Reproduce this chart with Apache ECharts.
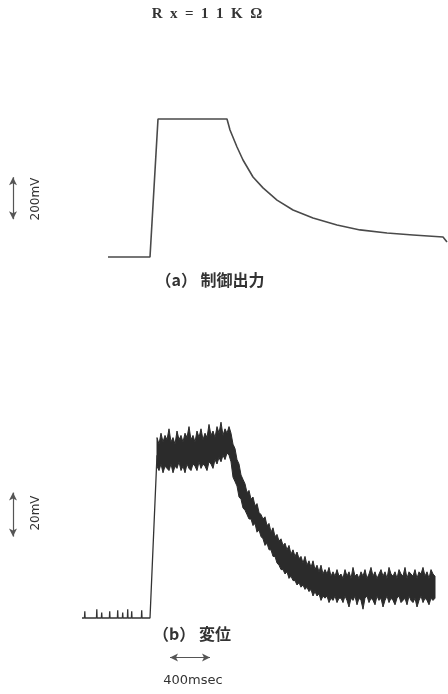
<!DOCTYPE html>
<html>
<head>
<meta charset="utf-8">
<script src="https://cdn.jsdelivr.net/npm/echarts@6/dist/echarts.min.js"></script>
<style>
  html, body { margin: 0; padding: 0; background: #ffffff; }
  #chart { width: 448px; height: 694px; }
</style>
</head>
<body>
<div id="chart"></div>
<script>
// (a) control output, time in ms (0 = start of step), value in mV
const outTime  = [-400, 20, 100, 790, 820, 890, 950, 1050, 1150, 1290, 1450, 1650, 1890, 2120, 2390, 2650, 2950, 2990];
const outValue = [0, 0, 657, 657, 605, 524, 462, 381, 329, 271, 224, 186, 152, 129, 114, 105, 95, 71];

// (b) displacement: quiet baseline before the step (mV) and the rising edge
const baseTime  = [-660, -635, -632, -629, -515, -512, -509, -466, -463, -460, -386, -383, -380, -306, -303, -300,
                   -256, -253, -250, -206, -203, -200, -166, -163, -160, -66, -63, -60, 20, 90];
const baseValue = [0, 0, 3, 0, 0, 4, 0, 0, 2.5, 0, 0, 3, 0, 0, 3.5, 0,
                   0, 2.5, 0, 0, 4, 0, 0, 3, 0, 0, 3.5, 0, 0, 74];

// (b) noisy displacement band: sample times (ms) with upper and lower envelope (mV)
const bandTime = [
  90, 110, 130, 150, 170, 190, 210, 230, 250, 270, 290, 310, 330, 350, 370, 390, 410, 430, 450, 470,
  490, 510, 530, 550, 570, 590, 610, 630, 650, 670, 690, 710, 730, 750, 770, 790, 810,
  830, 850, 870, 890, 910, 930, 950, 970, 990, 1010, 1030, 1050, 1070, 1090, 1110, 1130, 1150, 1170, 1190, 1210,
  1230, 1250, 1270, 1290, 1310, 1330, 1350, 1370, 1390, 1410, 1430, 1450, 1470, 1490, 1510, 1530, 1550, 1570, 1590, 1610,
  1630, 1650, 1670, 1690, 1710, 1730, 1750, 1770, 1790, 1810, 1830, 1850, 1870, 1890, 1910,
  1930, 1950, 1970, 1990, 2010, 2030, 2050, 2070, 2090, 2110, 2130, 2150, 2170, 2190, 2210, 2230, 2250, 2270, 2290, 2310,
  2330, 2350, 2370, 2390, 2410, 2430, 2450, 2470, 2490, 2510, 2530, 2550, 2570, 2590, 2610, 2630, 2650, 2670, 2690, 2710,
  2730, 2750, 2770, 2790, 2810, 2830, 2850, 2870
];
const bandHigh = [
  82, 79, 84, 80, 83, 81, 86, 80, 82, 79, 85, 81, 83, 80, 84, 82, 87, 81, 83, 80,
  85, 82, 86, 81, 84, 82, 88, 83, 85, 82, 87, 84, 89, 83, 86, 84, 87,
  84, 79, 77, 72, 70, 65, 63, 61, 57, 58, 54, 55, 51, 52, 48, 47, 45, 46, 42, 43,
  39, 41, 37, 38, 35, 36, 33, 34, 31, 33, 29, 31, 28, 30, 27, 28, 25, 28, 24, 26,
  23, 26, 22, 24, 21, 24, 20, 22, 20, 23, 19, 21, 19, 22, 19,
  20, 18, 22, 19, 21, 18, 23, 19, 20, 18, 21, 19, 22, 18, 20, 23, 19, 21, 18, 20,
  22, 19, 21, 18, 23, 20, 19, 21, 18, 22, 20, 19, 23, 18, 21, 20, 19, 22, 18, 21,
  20, 23, 19, 21, 18, 22, 20, 19
];
const bandLow = [
  69, 67, 70, 66, 69, 68, 67, 70, 66, 69, 68, 71, 67, 69, 66, 70, 68, 67, 70, 69,
  67, 71, 68, 70, 69, 67, 71, 70, 68, 72, 70, 73, 71, 74, 72, 75, 74,
  71, 64, 62, 60, 55, 54, 50, 49, 47, 45, 45, 42, 43, 39, 40, 37, 36, 33, 34, 31,
  31, 28, 28, 25, 24, 22, 22, 20, 21, 18, 19, 17, 17, 15, 16, 14, 15, 13, 14, 12,
  13, 10, 12, 10, 11, 8, 10, 9, 10, 7, 9, 8, 10, 7, 9,
  9, 7, 10, 8, 5, 9, 8, 10, 6, 9, 8, 4, 9, 10, 7, 9, 8, 6, 10, 8,
  9, 5, 8, 10, 7, 9, 8, 6, 9, 10, 7, 8, 9, 6, 10, 8, 7, 9, 5, 8,
  10, 7, 9, 8, 6, 9, 8, 9
];

// scale bars
const voltBarA = [180, 380];   // 200 mV
const voltBarB = [37, 57];     // 20 mV
const timeBar  = [220, 620];   // 400 ms
const timeBarLevel = -18;
const barTime = -1350;

const zip = (xs, ys) => xs.map((x, i) => [x, ys[i]]);

const ink = '#333333';
const cjk = '"Noto Sans CJK JP", "Noto Sans", sans-serif';
const mono = '"DejaVu Sans", sans-serif';

const chart = echarts.init(document.getElementById('chart'), null, { renderer: 'canvas' });

chart.setOption({
  backgroundColor: '#ffffff',
  animation: false,
  grid: [
    { left: 8, width: 440, top: 99.5, height: 178.5 },
    { left: 8, width: 440, top: 420, height: 253 }
  ],
  xAxis: [
    { gridIndex: 0, type: 'value', min: -1400, max: 3000, show: false },
    { gridIndex: 1, type: 'value', min: -1400, max: 3000, show: false }
  ],
  yAxis: [
    { gridIndex: 0, type: 'value', min: -100, max: 750, show: false },
    { gridIndex: 1, type: 'value', min: -25, max: 90, show: false }
  ],
  series: [
    {
      name: '制御出力',
      type: 'line',
      xAxisIndex: 0, yAxisIndex: 0,
      data: zip(outTime, outValue),
      showSymbol: false,
      lineStyle: { color: '#4a4a4a', width: 1.6 },
      markLine: {
        silent: true,
        symbol: ['arrow', 'arrow'],
        symbolSize: [6, 8],
        label: { show: false },
        lineStyle: { color: '#555', width: 1.2, type: 'solid' },
        data: [[{ coord: [barTime, voltBarA[0]] }, { coord: [barTime, voltBarA[1]] }]]
      }
    },
    {
      name: '変位基線',
      type: 'line',
      xAxisIndex: 1, yAxisIndex: 1,
      data: zip(baseTime, baseValue),
      showSymbol: false,
      lineStyle: { color: '#333', width: 1.3 },
      markLine: {
        silent: true,
        symbol: ['arrow', 'arrow'],
        symbolSize: [6, 8],
        label: { show: false },
        lineStyle: { color: '#555', width: 1.2, type: 'solid' },
        data: [
          [{ coord: [barTime, voltBarB[0]] }, { coord: [barTime, voltBarB[1]] }],
          [{ coord: [timeBar[0], timeBarLevel] }, { coord: [timeBar[1], timeBarLevel] }]
        ]
      }
    },
    {
      // noise band drawn as one polygon between the upper and lower envelopes
      name: '変位',
      type: 'custom',
      xAxisIndex: 1, yAxisIndex: 1,
      data: bandTime.map((t, i) => [t, bandHigh[i], bandLow[i]]),
      encode: { x: 0, y: [1, 2] },
      renderItem: function (params, api) {
        if (params.dataIndex !== 0) return null;
        const pts = [];
        for (let i = 0; i < bandTime.length; i++) pts.push(api.coord([bandTime[i], bandHigh[i]]));
        for (let i = bandTime.length - 1; i >= 0; i--) pts.push(api.coord([bandTime[i], bandLow[i]]));
        return {
          type: 'polygon',
          shape: { points: pts },
          style: { fill: '#2b2b2b', stroke: '#2b2b2b', lineWidth: 1 }
        };
      }
    }
  ],
  graphic: [
    { type: 'text', x: 207, y: 14,
      style: { text: 'R  x  =  1  1  K  Ω', font: 'bold 15px "Liberation Serif", "DejaVu Serif", serif',
               fill: ink, align: 'center', verticalAlign: 'middle' } },
    { type: 'text', x: 36, y: 199, rotation: Math.PI / 2,
      style: { text: '200mV', font: '12px ' + mono,
               fill: ink, align: 'center', verticalAlign: 'middle' } },
    { type: 'text', x: 210, y: 280,
      style: { text: '（a） 制御出力', font: 'bold 16px ' + cjk,
               fill: ink, align: 'center', verticalAlign: 'middle' } },
    { type: 'text', x: 36, y: 513, rotation: Math.PI / 2,
      style: { text: '20mV', font: '12px ' + mono,
               fill: ink, align: 'center', verticalAlign: 'middle' } },
    { type: 'text', x: 192, y: 634,
      style: { text: '（b） 変位', font: 'bold 16px ' + cjk,
               fill: ink, align: 'center', verticalAlign: 'middle' } },
    { type: 'text', x: 193, y: 681,
      style: { text: '400msec', font: '13px ' + mono,
               fill: ink, align: 'center', verticalAlign: 'middle' } }
  ]
});
</script>
</body>
</html>
